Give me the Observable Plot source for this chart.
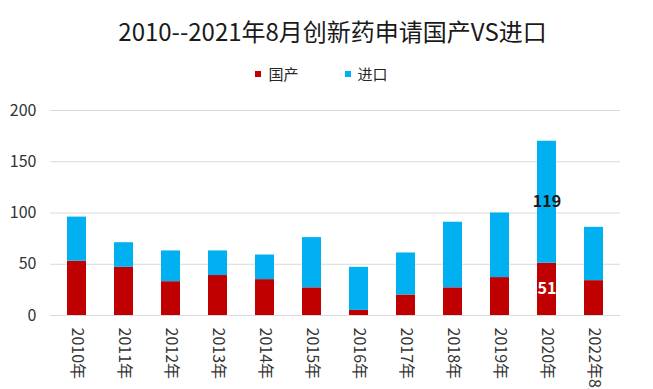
<!DOCTYPE html>
<html><head><meta charset="utf-8">
<script src="https://cdn.jsdelivr.net/npm/d3@7"></script>
<script src="https://cdn.jsdelivr.net/npm/@observablehq/plot@0.6"></script>
<style>
body{margin:0;background:#fff;font-family:"Noto Sans CJK SC","Noto Sans",sans-serif;}
#wrap{width:653px;height:389px;overflow:hidden;position:relative;}
#title{height:58px;line-height:62px;text-align:center;font-size:24px;color:#1a1a1a;padding-left:12px;box-sizing:border-box;}
#legend{height:34px;display:flex;justify-content:center;align-items:center;font-size:15px;color:#262626;padding-right:10px;padding-bottom:3px;box-sizing:border-box;}
.item{display:flex;align-items:center;}
.sw{width:6px;height:6px;margin-right:7px;}
</style></head>
<body><div id="wrap">
<div id="title">2010--2021年8月创新药申请国产VS进口</div>
<div id="legend"></div>
<div id="chart"></div>
</div>
<script>
const years = ["2010年","2011年","2012年","2013年","2014年","2015年","2016年","2017年","2018年","2019年","2020年","2022年8月"];
const domestic = [53, 47, 33, 39, 35, 27, 5, 20, 27, 37, 51, 34];
const imported = [43, 24, 30, 24, 24, 49, 42, 41, 64, 63, 119, 52];
const seriesNames = ["国产", "进口"];
const seriesColors = ["#C00000", "#00B0F0"];
const labeledYear = "2020年";
const yTicks = [0, 50, 100, 150, 200];

const legend = document.getElementById("legend");
seriesNames.forEach((n, i) => {
  const it = document.createElement("div");
  it.className = "item";
  if (i > 0) it.style.marginLeft = "46px";
  it.innerHTML = `<span class="sw" style="background:${seriesColors[i]}"></span><span>${n}</span>`;
  legend.appendChild(it);
});

const rows = [];
years.forEach((y, i) => {
  rows.push({year: y, series: seriesNames[0], value: domestic[i]});
  rows.push({year: y, series: seriesNames[1], value: imported[i]});
});

const chart = Plot.plot({
  width: 653,
  height: 297,
  marginTop: 18,
  marginBottom: 74,
  marginLeft: 50,
  marginRight: 33,
  style: {fontFamily: '"Noto Sans CJK SC","Noto Sans",sans-serif', fontSize: "16px", color: "#333333", background: "#fff"},
  x: {domain: years, paddingInner: 0.6, paddingOuter: 0.3, label: null, tickSize: 0, tickRotate: 90, tickPadding: 12},
  y: {domain: [0, 200], ticks: yTicks, label: null, tickSize: 0, tickPadding: 14, grid: false},
  color: {domain: seriesNames, range: seriesColors},
  marks: [
    Plot.ruleY(yTicks, {stroke: "#d9d9d9", strokeWidth: 1}),
    Plot.barY(rows, {x: "year", y: "value", fill: "series", order: seriesNames}),
    Plot.text(rows, Plot.stackY({
      filter: d => d.year === labeledYear,
      x: "year", y: "value", text: d => String(d.value), order: seriesNames,
      fill: d => d.series === seriesNames[0] ? "#ffffff" : "#1a1a1a",
      fontWeight: "bold", fontSize: 16
    }))
  ]
});
document.getElementById("chart").appendChild(chart);
</script>
</body></html>
